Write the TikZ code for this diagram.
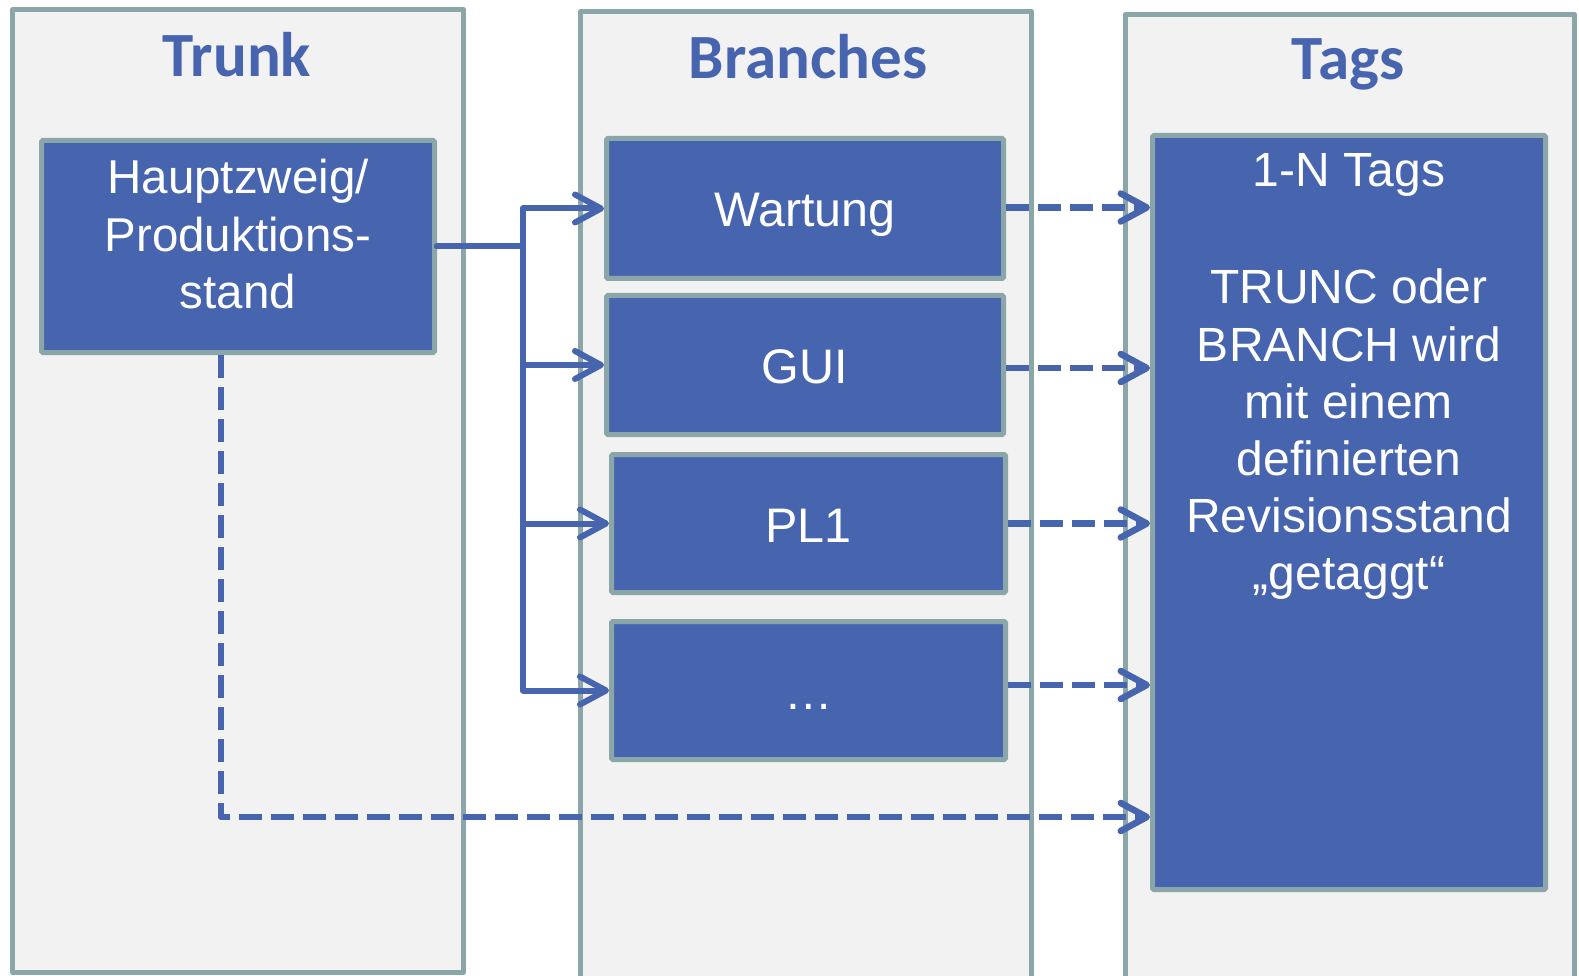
\documentclass[tikz,border=0pt]{standalone}
\usepackage{fontspec}
\setmainfont{Liberation Sans}
\newfontfamily\titlefont{Carlito}
\usetikzlibrary{arrows.meta}
\definecolor{boxblue}{HTML}{4764AE}
\definecolor{edgegray}{HTML}{8BA6A8}
\definecolor{panelfill}{HTML}{F2F2F2}
\begin{document}
\begin{tikzpicture}[x=1pt,y=-1pt,
  panel/.style={draw=edgegray, fill=panelfill, line width=5pt, line join=round},
  bluebox/.style={rectangle, draw=edgegray, fill=boxblue, line width=5pt, rounded corners=1.5pt, inner sep=0pt},
  branchbox/.style={bluebox, text=white, font=\fontsize{48.5}{58}\selectfont, text height=45pt, text depth=8pt},
  boxtext/.style={text=white, align=center, inner sep=0pt},
  paneltitle/.style={text=boxblue, font=\titlefont\bfseries\fontsize{63}{76}\selectfont, inner sep=0pt, anchor=base},
  solidarrow/.style={draw=boxblue, line width=6pt, line join=round, line cap=round,
    -{Straight Barb[length=26pt, width=28pt, line cap=round, line join=round]}},
  dasharrow/.style={draw=boxblue, line width=6.5pt, line join=round, dash pattern=on 23pt off 9pt,
    -{Straight Barb[length=26pt, width=28pt, line cap=round, line join=round]}}
]
\useasboundingbox (0,0) rectangle (1579,976);
\clip (0,0) rectangle (1579,976);
\fill[white] (0,0) rectangle (1579,976);

% panels
\draw[panel] (12.5,9.5) rectangle (463.5,972.5);
\draw[panel] (580.5,11.5) rectangle (1031.5,995);
\draw[panel] (1125.5,14.5) rectangle (1574.5,995);

% titles
\node[paneltitle] (trunkT) at (237,77) {Trunk};
\node[paneltitle] (branchT) at (808,79) {Branches};
\node[paneltitle] (tagsT) at (1348,80) {Tags};

% boxes
\node[bluebox, minimum width=393pt, minimum height=212pt] (haupt) at (238,246.5) {};
\node[boxtext, anchor=north, font=\fontsize{47.5}{57.5}\selectfont] (hauptT) at (238,159) {Hauptzweig/\\Produktions-\\stand};

\node[branchbox, minimum width=397pt, minimum height=140pt] (wartung) at (805,208.5) {Wartung};
\node[branchbox, minimum width=397pt, minimum height=139pt] (gui) at (805,365) {GUI};
\node[branchbox, minimum width=394pt, minimum height=138pt] (pl) at (808.5,523.5) {PL1};
\node[branchbox, minimum width=394pt, minimum height=138pt] (dots) at (808.5,690.5) {…};

\node[bluebox, minimum width=393pt, minimum height=754pt] (tags) at (1349,512.5) {};
\node[boxtext, anchor=north, font=\fontsize{48}{57.2}\selectfont] (tagsTxt) at (1349,153.5) {1-N Tags\\[60pt]TRUNC oder\\BRANCH wird\\mit einem\\definierten\\Revisionsstand\\„getaggt“};

% solid branch arrows
\coordinate (split) at (523,246.5);
\draw[solidarrow] (haupt.east) -- (split) |- (wartung.west);
\draw[solidarrow] (haupt.east) -- (split) |- (gui.west);
\draw[solidarrow] (haupt.east) -- (split) |- (pl.west);
\draw[solidarrow] (haupt.east) -- (split) |- (dots.west);

% dashed tag arrows
\draw[dasharrow] ([yshift=1pt]wartung.east) -- ([yshift=1pt]wartung.east -| tags.west);
\draw[dasharrow] ([yshift=-3pt]gui.east) -- ([yshift=-3pt]gui.east -| tags.west);
\draw[dasharrow] (pl.east) -- (pl.east -| tags.west);
\draw[dasharrow] ([yshift=5.5pt]dots.east) -- ([yshift=5.5pt]dots.east -| tags.west);

\coordinate (tcorner) at (221,817);
\draw[dasharrow] ([xshift=-17pt]haupt.south) -- (tcorner) -- (tcorner -| tags.west);
\end{tikzpicture}
\end{document}
